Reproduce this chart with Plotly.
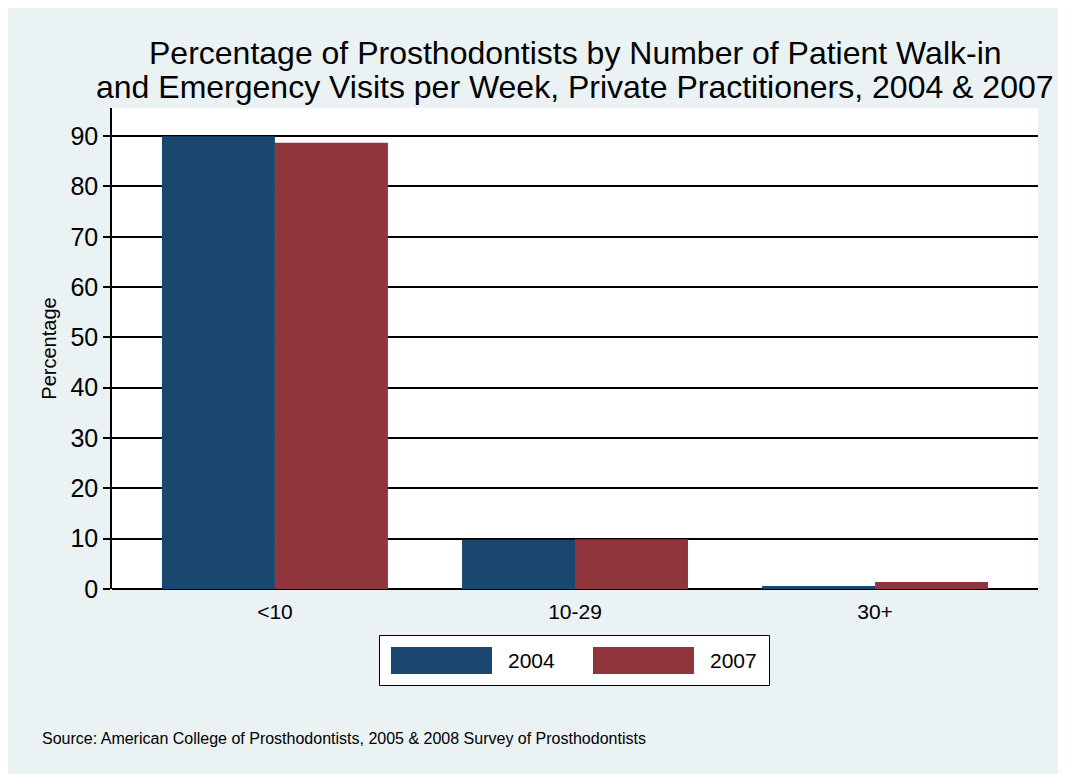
import plotly.graph_objects as go

categories = ["<10", "10-29", "30+"]
series_names = ["2004", "2007"]
values_2004 = [90.0, 9.8, 0.6]
values_2007 = [88.7, 9.9, 1.4]
y_ticks = [0, 10, 20, 30, 40, 50, 60, 70, 80, 90]
colors = ["#1A476F", "#90353B"]

title_lines = ["Percentage of Prosthodontists by Number of Patient Walk-in",
               "and Emergency Visits per Week, Private Practitioners, 2004 & 2007"]
source_text = "Source: American College of Prosthodontists, 2005 & 2008 Survey of Prosthodontists"

W, H = 1066, 774
OFF = 8  # page body margin
L, R, T, B = 112 - OFF, 1038 - OFF, 108 - OFF, 589 - OFF  # plot area in figure pixels
pw, ph = R - L, B - T


def px(x):  # x given in screen pixels
    return (x - OFF - L) / pw


def py(y):  # y given in screen pixels
    return (B - (y - OFF)) / ph


FONT = "Liberation Sans, Arial, sans-serif"

fig = go.Figure()
xs = list(range(len(categories)))
for name, vals, col in zip(series_names, [values_2004, values_2007], colors):
    fig.add_trace(go.Bar(x=xs, y=vals, name=name, marker=dict(color=col, line=dict(width=0)),
                         showlegend=False))

shapes = []
# legend box
shapes.append(dict(type="rect", xref="paper", yref="paper", x0=px(379.5), x1=px(769.5), y0=py(685.5), y1=py(635.5),
                   fillcolor="white", line=dict(color="black", width=1)))
annotations = []
sw_x = [391, 593]
for i, (name, col) in enumerate(zip(series_names, colors)):
    shapes.append(dict(type="rect", xref="paper", yref="paper", x0=px(sw_x[i]), x1=px(sw_x[i] + 101),
                       y0=py(674), y1=py(647), fillcolor=col, line=dict(width=0)))
    annotations.append(dict(text=name, xref="paper", yref="paper", x=px(sw_x[i] + 115), y=py(660.5),
                            xanchor="left", yanchor="middle", showarrow=False,
                            font=dict(family=FONT, size=21, color="black")))

annotations.append(dict(text=title_lines[0], xref="paper", yref="paper", x=0.5, y=py(53),
                        xanchor="center", yanchor="middle", showarrow=False,
                        font=dict(family=FONT, size=32, color="black")))
annotations.append(dict(text=title_lines[1], xref="paper", yref="paper", x=0.5, y=py(87),
                        xanchor="center", yanchor="middle", showarrow=False,
                        font=dict(family=FONT, size=32, color="black")))
annotations.append(dict(text=source_text, xref="paper", yref="paper", x=px(40), y=py(738),
                        xanchor="left", yanchor="middle", showarrow=False,
                        font=dict(family=FONT, size=16, color="black")))

fig.update_layout(
    width=W, height=H, autosize=False,
    margin=dict(l=L, r=W - R, t=T, b=H - B, pad=0),
    paper_bgcolor="#EAF2F3", plot_bgcolor="white",
    barmode="group", bargap=0.247, bargroupgap=0,
    shapes=shapes, annotations=annotations,
    font=dict(family=FONT, color="black"),
    xaxis=dict(range=[-0.543, 2.543], tickvals=xs, ticktext=categories, showgrid=False,
               zeroline=False, showline=False, ticks="", tickfont=dict(size=21),
               ticklabelstandoff=8, fixedrange=True),
    yaxis=dict(range=[0, 95.6], tickvals=y_ticks, showgrid=True, gridcolor="black", gridwidth=2,
               zeroline=True, zerolinecolor="black", zerolinewidth=2,
               showline=True, linecolor="black", linewidth=1.5, ticks="outside", ticklen=7,
               tickcolor="black", tickwidth=1.5, tickfont=dict(size=25),
               title=dict(text="Percentage", font=dict(size=20), standoff=8)),
)

fig.write_html("out.html")
